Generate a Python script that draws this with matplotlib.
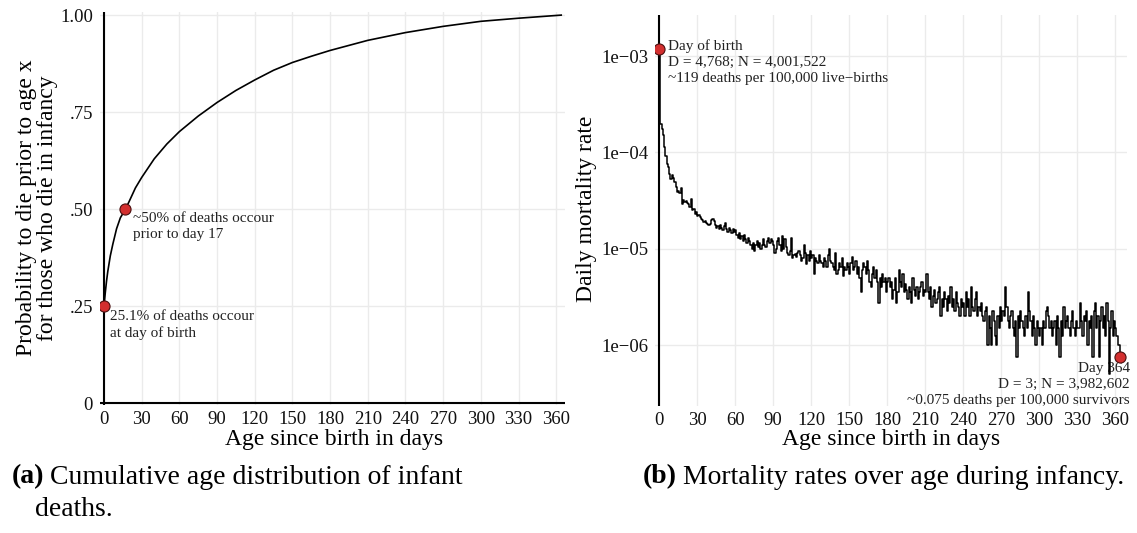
import numpy as np
import matplotlib
matplotlib.use("Agg")
import matplotlib.pyplot as plt
from matplotlib.ticker import NullLocator

plt.rcParams["font.family"] = ["Liberation Serif", "DejaVu Serif"]

# (a) cumulative share of infant deaths by age
cdf_days = [0, 0, 1, 2, 3, 5, 7, 10, 13, 17, 20, 25, 30, 40, 50, 60, 75, 90,
            105, 120, 135, 150, 165, 180, 210, 240, 270, 300, 330, 364]
cdf_share = [0, .251, .285, .315, .34, .38, .41, .45, .478, .50, .52, .555, .582,
             .63, .668, .70, .74, .775, .806, .833, .858, .878, .894, .909, .935,
             .955, .971, .984, .992, 1.0]

# (b) deaths per day of age, day 0 .. 364
daily_deaths = [
    # days 0-30
    4768, 780, 700, 600, 450, 370, 300, 280, 240, 210, 235, 215, 195, 175, 155, 160,
    150, 170, 115, 128, 122, 126, 120, 116, 108, 130, 100, 104, 92, 96, 88,
    # 31-60
    90, 86, 82, 80, 76, 78, 74, 72, 70, 72, 80, 82, 78, 70, 66, 68, 64, 70, 66, 62,
    68, 74, 64, 60, 66, 62, 58, 64, 60, 62,
    # 61-90
    56, 52, 58, 50, 54, 48, 55, 50, 46, 52, 48, 44, 40, 46, 38, 44, 48, 42, 46, 40,
    44, 50, 44, 42, 48, 52, 46, 50, 48, 44,
    # 91-120
    36, 40, 48, 52, 44, 38, 54, 40, 50, 42, 36, 34, 38, 52, 32, 34, 35, 33, 36, 38,
    34, 30, 32, 44, 36, 28, 34, 30, 38, 32,
    # 121-150
    34, 22, 32, 30, 28, 34, 30, 28, 26, 32, 30, 26, 34, 40, 30, 28, 26, 24, 36, 22,
    24, 28, 26, 32, 21, 26, 24, 28, 26, 22,
    # 151-180
    28, 33, 24, 26, 30, 22, 26, 20, 14, 24, 28, 26, 22, 30, 24, 18, 16, 22, 26, 20,
    24, 18, 11, 20, 16, 22, 18, 20, 14, 18,
    # 181-210
    20, 16, 18, 12, 15, 20, 11, 14, 24, 18, 16, 22, 14, 17, 15, 12, 16, 14, 11, 20,
    15, 13, 16, 12, 14, 16, 18, 13, 15, 14,
    # 211-240
    22, 14, 12, 16, 10, 13, 15, 11, 12, 14, 16, 8, 12, 10, 14, 12, 9, 13, 11, 16,
    10, 12, 9, 14, 11, 10, 8, 12, 10, 11,
    # 241-270
    8, 14, 10, 12, 8, 16, 10, 9, 12, 14, 8, 10, 9, 11, 8, 7, 9, 10, 4, 8,
    6, 4, 9, 7, 5, 4, 8, 6, 10, 7,
    # 271-300
    9, 8, 16, 10, 7, 6, 8, 9, 6, 5, 7, 3, 8, 6, 9, 7, 6, 5, 8, 6,
    14, 9, 7, 5, 8, 6, 4, 7, 6, 5,
    # 301-330
    6, 4, 7, 6, 9, 10, 8, 6, 7, 5, 6, 7, 4, 8, 6, 3, 7, 5, 10, 6,
    7, 8, 6, 5, 7, 9, 6, 5, 7, 6,
    # 331-364
    6, 11, 7, 5, 8, 7, 9, 4, 7, 6, 8, 3, 9, 11, 6, 8, 3, 7, 10, 6,
    8, 5, 11, 7, 2, 6, 9, 5, 7, 6, 5, 4, 4, 3,
]
live_births = 4001522

days = np.arange(len(daily_deaths))
deaths = np.array(daily_deaths, dtype=float)
at_risk = live_births - np.concatenate([[0], np.cumsum(deaths)[:-1]])
rate = deaths / at_risk

W, H = 1137, 533
fig = plt.figure(figsize=(W / 100, H / 100), dpi=100)

grid_col = "#ebebeb"
txt_col = "#222222"
dot = dict(marker="o", ms=8, mfc="#d32f2f", mec="#4a1010", mew=0.8, zorder=5)
xt = np.arange(0, 361, 30)

# ---- (a) cumulative distribution
ax1 = fig.add_axes([100 / W, 1 - 405 / H, 465 / W, 393 / H])
ax1.plot(cdf_days, cdf_share, color="black", lw=1.2, zorder=3)
ax1.axvline(0, color="black", lw=1.5, zorder=4)
ax1.axhline(0, color="black", lw=1.5, zorder=4)
ax1.plot([0], [cdf_share[1]], **dot)
ax1.plot([17], [.50], **dot)
ax1.set_xlim(-3.2, 367)
ax1.set_ylim(-0.004, 1.008)
ax1.set_xticks(xt)
ax1.set_yticks([0, .25, .5, .75, 1.0], ["0", ".25", ".50", ".75", "1.00"])
ax1.annotate("25.1% of deaths occour\nat day of birth", xy=(0, .251),
             xytext=(4.5, -3), textcoords="offset points", ha="left", va="top",
             fontsize=11, color=txt_col, linespacing=1.3)
ax1.annotate("~50% of deaths occour\nprior to day 17", xy=(17, .50),
             xytext=(5.5, -2), textcoords="offset points", ha="left", va="top",
             fontsize=11, color=txt_col, linespacing=1.3)

# ---- (b) daily mortality rate
ax2 = fig.add_axes([655 / W, 1 - 406 / H, 472 / W, 391 / H])
ax2.plot(days, rate, drawstyle="steps-post", color="black", lw=1.1, zorder=3)
ax2.axvline(0, color="black", lw=1.5, zorder=4)
ax2.plot([0], [rate[0]], **dot)
ax2.plot([days[-1]], [rate[-1]], **dot)
ax2.set_yscale("log")
ax2.set_xlim(-3.2, 369.3)
ax2.set_ylim(2.33e-7, 2.67e-3)
ax2.set_xticks(xt)
ax2.set_yticks([1e-6, 1e-5, 1e-4, 1e-3], ["1e\u221206", "1e\u221205", "1e\u221204", "1e\u221203"])
ax2.yaxis.set_minor_locator(NullLocator())
ax2.annotate("Day of birth\nD = 4,768; N = 4,001,522\n~119 deaths per 100,000 live\u2212births",
             xy=(0, rate[0]), xytext=(6.5, 7), textcoords="offset points",
             ha="left", va="top", fontsize=11, color=txt_col, linespacing=1.3)
ax2.annotate("Day 364\nD = 3; N = 3,982,602\n~0.075 deaths per 100,000 survivors",
             xy=(days[-1], rate[-1]), xytext=(7, -3.5), textcoords="offset points",
             ha="right", va="top", fontsize=11, color=txt_col, linespacing=1.3,
             zorder=2)

for ax in (ax1, ax2):
    for s in ax.spines.values():
        s.set_visible(False)
    ax.grid(True, color=grid_col, lw=1.0)
    ax.set_axisbelow(True)
    ax.tick_params(length=0, labelsize=13.5, colors="#111111")
    ax.tick_params(axis="x", pad=4)
    ax.tick_params(axis="y", pad=5)

# axis titles
fig.text(37 / W, 1 - 208 / H, "Probability to die prior to age x\nfor those who die in infancy",
         rotation=90, ha="center", va="center", fontsize=17, linespacing=0.95)
fig.text(586 / W, 1 - 209 / H, "Daily mortality rate", rotation=90,
         ha="center", va="center", fontsize=17)
fig.text(334 / W, 1 - 440 / H, "Age since birth in days", ha="center", va="center", fontsize=17)
fig.text(891 / W, 1 - 440 / H, "Age since birth in days", ha="center", va="center", fontsize=17)

# sub-captions
renderer = fig.canvas.get_renderer()


def caption(x, y, tag, text):
    t = fig.text(x / W, 1 - y / H, tag, fontsize=20, fontweight="bold", va="center")
    bb = t.get_window_extent(renderer)
    fig.text((bb.x1 + 6) / W, 1 - y / H, text, fontsize=20, va="center")


caption(12, 477, "(a)", "Cumulative age distribution of infant")
fig.text(35 / W, 1 - 509 / H, "deaths.", fontsize=20, va="center")
caption(643, 477, "(b)", "Mortality rates over age during infancy.")

fig.savefig("out.png", dpi=100)
